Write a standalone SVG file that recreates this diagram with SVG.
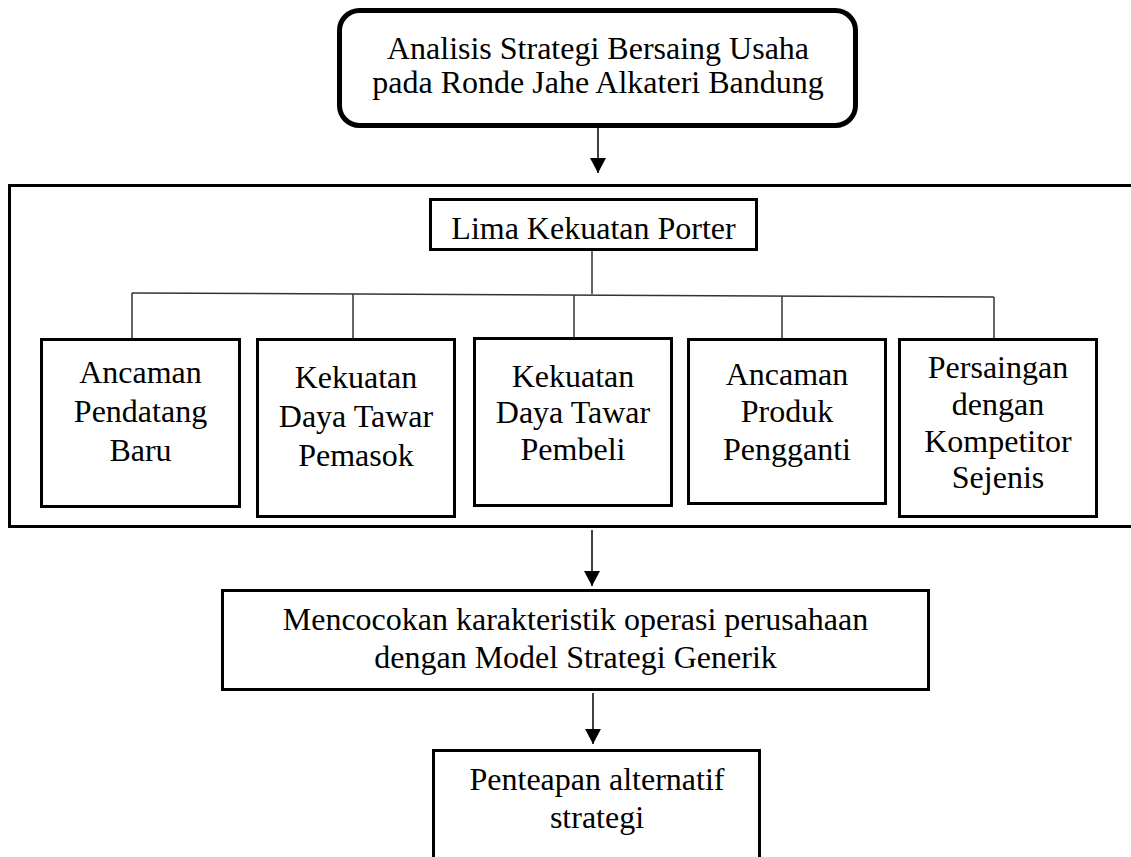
<svg xmlns="http://www.w3.org/2000/svg" width="1131" height="857" viewBox="0 0 1131 857">
<style>
text{font-family:"Liberation Serif","Times New Roman",serif;font-size:32px;fill:#000;text-anchor:middle}
.box{fill:#fff;stroke:#000;stroke-width:3}
.frame{fill:none;stroke:#000;stroke-width:3}
.conn{fill:none;stroke:#333;stroke-width:1.5}
.arrow{fill:none;stroke:#000;stroke-width:1.5}
</style>
<defs>
<marker id="ah" markerUnits="userSpaceOnUse" markerWidth="16" markerHeight="16" refX="15" refY="8" orient="auto">
<path d="M0,0 L15,8 L0,16 Z" fill="#000"/>
</marker>
</defs>
<rect width="1131" height="857" fill="#fff"/>
<g id="frame">
<rect class="frame" x="9.5" y="185.5" width="1130" height="341"/>
</g>
<g id="connectors">
<line class="arrow" x1="598" y1="127" x2="598" y2="173" marker-end="url(#ah)"/>
<polyline class="conn" points="592,251 592,294"/>
<polyline class="conn" points="132,293 994,297"/>
<line class="conn" x1="132" y1="293" x2="132" y2="338"/>
<line class="conn" x1="353" y1="294" x2="353" y2="338"/>
<line class="conn" x1="574" y1="295" x2="574" y2="337"/>
<line class="conn" x1="782" y1="296" x2="782" y2="338"/>
<line class="conn" x1="994" y1="297" x2="994" y2="338"/>
<line class="arrow" x1="592" y1="530" x2="592" y2="586" marker-end="url(#ah)"/>
<line class="arrow" x1="593" y1="693" x2="593" y2="744" marker-end="url(#ah)"/>
</g>
<g id="node-top">
<rect x="339.5" y="10.5" width="516" height="115" rx="20" fill="#fff" stroke="#000" stroke-width="5"/>
<text x="598" y="59">Analisis Strategi Bersaing Usaha</text>
<text x="598" y="93">pada Ronde Jahe Alkateri Bandung</text>
</g>
<g id="node-lima">
<rect class="box" x="430.5" y="199.5" width="326" height="50"/>
<text x="593.5" y="239">Lima Kekuatan Porter</text>
</g>
<g id="node-1">
<rect class="box" x="41.5" y="339.5" width="198" height="167"/>
<text x="140.5" y="383">Ancaman</text>
<text x="140.5" y="422">Pendatang</text>
<text x="140.5" y="461">Baru</text>
</g>
<g id="node-2">
<rect class="box" x="257.5" y="339.5" width="197" height="177"/>
<text x="356" y="388">Kekuatan</text>
<text x="356" y="427">Daya Tawar</text>
<text x="356" y="466">Pemasok</text>
</g>
<g id="node-3">
<rect class="box" x="474.5" y="338.5" width="197" height="167"/>
<text x="573" y="387">Kekuatan</text>
<text x="573" y="423">Daya Tawar</text>
<text x="573" y="460">Pembeli</text>
</g>
<g id="node-4">
<rect class="box" x="688.5" y="339.5" width="197" height="164"/>
<text x="787" y="385">Ancaman</text>
<text x="787" y="422">Produk</text>
<text x="787" y="460">Pengganti</text>
</g>
<g id="node-5">
<rect class="box" x="899.5" y="339.5" width="197" height="177"/>
<text x="998" y="378">Persaingan</text>
<text x="998" y="415">dengan</text>
<text x="998" y="452">Kompetitor</text>
<text x="998" y="488">Sejenis</text>
</g>
<g id="node-mencocokan">
<rect class="box" x="222.5" y="590.5" width="706" height="99"/>
<text x="575.5" y="630">Mencocokan karakteristik operasi perusahaan</text>
<text x="575.5" y="668">dengan Model Strategi Generik</text>
</g>
<g id="node-penteapan">
<rect class="box" x="433.5" y="750.5" width="326" height="130"/>
<text x="597" y="790">Penteapan alternatif</text>
<text x="597" y="828">strategi</text>
</g>
</svg>
